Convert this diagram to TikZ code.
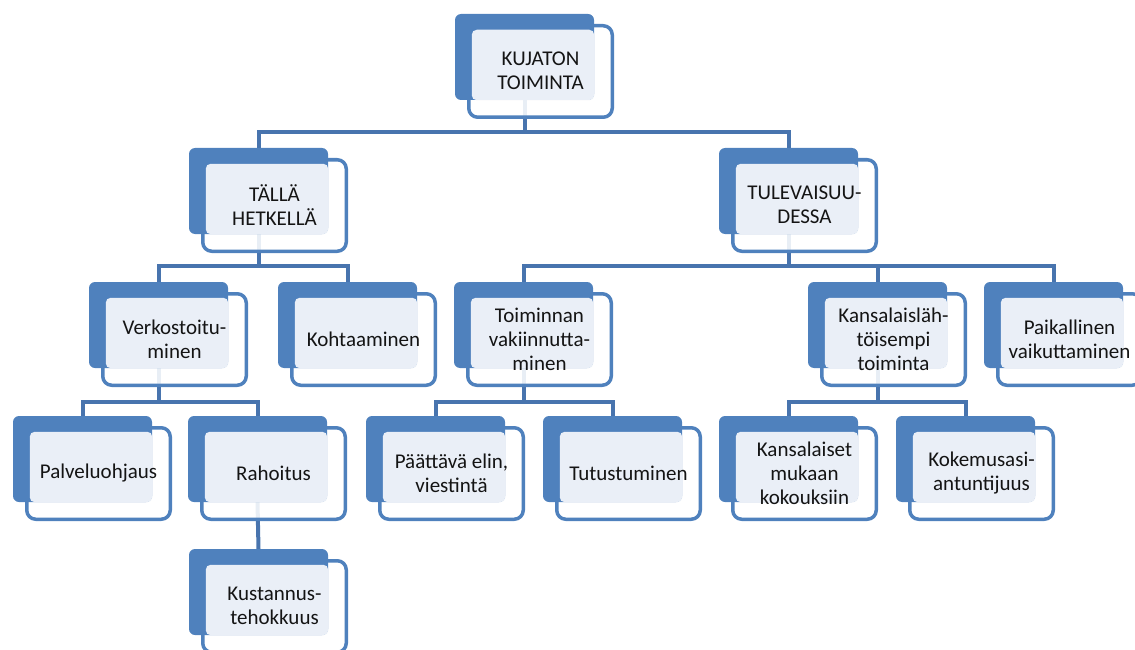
\documentclass[tikz,border=0pt]{standalone}
\usepackage{fontspec}
\setmainfont{Carlito}
\definecolor{accent}{HTML}{4F81BD}
\definecolor{connc}{HTML}{4874AE}
\definecolor{lightc}{HTML}{EAEFF7}
\definecolor{txt}{HTML}{141414}
\tikzset{
  bluebox/.style={fill=accent, draw=none, rounded corners=6pt, minimum width=139pt, minimum height=86pt, inner sep=0pt, outer sep=0pt},
  whitebox/.style={fill=white, fill opacity=0.88, draw=accent, draw opacity=1, line width=3.5pt, rounded corners=9pt, minimum width=143.5pt, minimum height=91.5pt, inner sep=0pt, outer sep=0pt},
  lightbox/.style={fill=lightc, draw=none, rounded corners=5pt, minimum width=122.5pt, minimum height=70.5pt, inner sep=0pt, outer sep=0pt},
  lbl/.style={text=txt, align=center, font=\fontsize{21}{24}\selectfont, inner sep=0pt},
  conn/.style={draw=connc, line width=4pt}
}
\newcommand{\orgbox}[4]{%
  \node[whitebox] (#1-w) at (#2+85.5,#3+57.5) {};
  \node[bluebox] (#1) at (#2+69.5,#3+43) {};
  \node[lightbox] (#1-l) at (#2+78,#3+51) {};
  \node[lbl] (#1-t) at (#2+85.5,#3+57) {#4};
}
\pgfdeclarelayer{fg}
\pgfsetlayers{main,fg}
\begin{document}
\begin{tikzpicture}[x=1pt,y=-1pt]
\useasboundingbox (0,0) rectangle (1135,650);
% bus levels
\coordinate (b1) at (0,132);
\coordinate (b2) at (0,266);
\coordinate (b3) at (0,402);
\begin{pgfonlayer}{fg}
\orgbox{top}{455}{14}{KUJATON\\TOIMINTA}
\orgbox{tal}{189}{148}{TÄLLÄ\\HETKELLÄ}
\orgbox{tul}{719}{148}{TULEVAISUU-\\DESSA}
\orgbox{verk}{89}{282}{Verkostoitu-\\minen}
\orgbox{koht}{278}{282}{Kohtaaminen}
\orgbox{toim}{454}{282}{Toiminnan\\vakiinnutta-\\minen}
\orgbox{kans}{808}{282}{Kansalaisläh-\\töisempi\\toiminta}
\orgbox{paik}{984}{282}{Paikallinen\\vaikuttaminen}
\orgbox{palv}{13}{416}{Palveluohjaus}
\orgbox{raho}{188}{416}{Rahoitus}
\orgbox{paat}{366}{416}{Päättävä elin,\\viestintä}
\orgbox{tutu}{543}{416}{Tutustuminen}
\orgbox{kmuk}{719}{416}{Kansalaiset\\mukaan\\kokouksiin}
\orgbox{koke}{896}{416}{Kokemusasi-\\antuntijuus}
\orgbox{kust}{189}{549}{Kustannus-\\tehokkuus}
\end{pgfonlayer}
% connectors on main layer (below the boxes)
\draw[conn] (top.south) -- (top.south |- b1) -| (tal.north);
\draw[conn] (top.south |- b1) -| (tul.north);
\draw[conn] (tal.south) -- (tal.south |- b2) -| (verk.north);
\draw[conn] (tal.south |- b2) -| (koht.north);
\draw[conn] (tul.south) -- (tul.south |- b2) -| (toim.north);
\draw[conn] (tul.south |- b2) -| (kans.north);
\draw[conn] (tul.south |- b2) -| (paik.north);
\draw[conn] (verk.south) -- (verk.south |- b3) -| (palv.north);
\draw[conn] (verk.south |- b3) -| (raho.north);
\draw[conn] (toim.south) -- (toim.south |- b3) -| (paat.north);
\draw[conn] (toim.south |- b3) -| (tutu.north);
\draw[conn] (kans.south) -- (kans.south |- b3) -| (kmuk.north);
\draw[conn] (kans.south |- b3) -| (koke.north);
\draw[conn] (raho.south) -- (kust.north);
\end{tikzpicture}
\end{document}
